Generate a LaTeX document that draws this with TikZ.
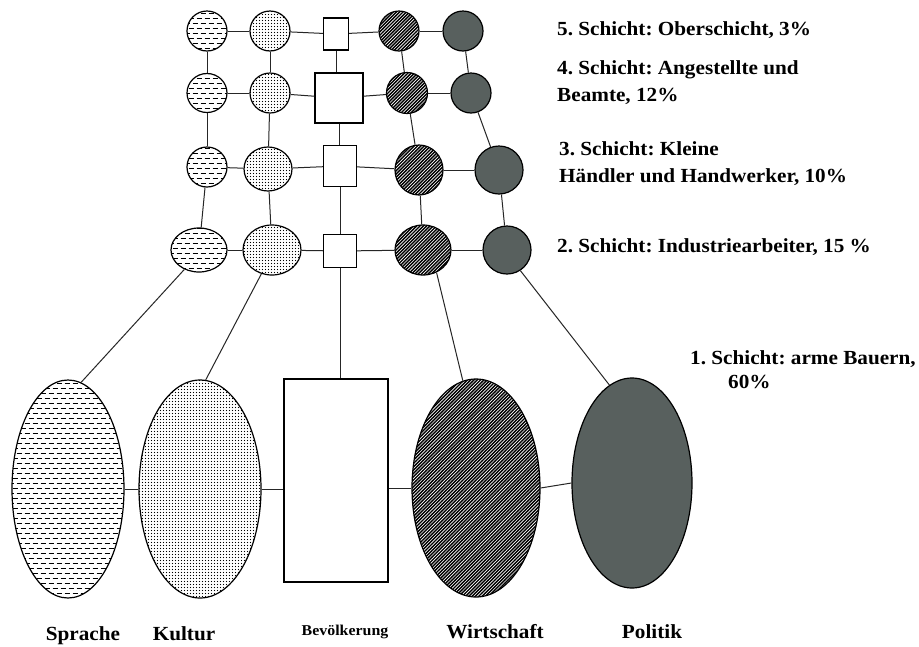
\documentclass[tikz,border=0pt]{standalone}
\usepackage{fontspec}
\setmainfont{Liberation Serif}
\newfontfamily\labfont[FakeStretch=1.06]{Liberation Serif}
\usetikzlibrary{shapes.geometric,patterns}

% staggered short horizontal dashes
\pgfdeclarepatternformonly{hdashes}{\pgfpoint{-0.5pt}{-0.5pt}}{\pgfpoint{8.5pt}{10.5pt}}{\pgfpoint{8pt}{10pt}}{%
  \pgfsetlinewidth{1.6pt}
  \pgfpathmoveto{\pgfpoint{0.5pt}{2.5pt}}\pgfpathlineto{\pgfpoint{5.5pt}{2.5pt}}
  \pgfpathmoveto{\pgfpoint{4.5pt}{7.5pt}}\pgfpathlineto{\pgfpoint{8pt}{7.5pt}}
  \pgfpathmoveto{\pgfpoint{0pt}{7.5pt}}\pgfpathlineto{\pgfpoint{1.5pt}{7.5pt}}
  \pgfusepath{stroke}}
% fine dots
\pgfdeclarepatternformonly{finedots}{\pgfpoint{-0.5pt}{-0.5pt}}{\pgfpoint{3.5pt}{3.5pt}}{\pgfpoint{3pt}{3pt}}{%
  \pgfpathcircle{\pgfpoint{1.5pt}{1.5pt}}{0.7pt}
  \pgfusepath{fill}}
% dense diagonal hatching
\pgfdeclarepatternformonly{densediag}{\pgfpoint{-1pt}{-1pt}}{\pgfpoint{4.3pt}{4.3pt}}{\pgfpoint{3.3pt}{3.3pt}}{%
  \pgfsetlinewidth{1.4pt}
  \pgfpathmoveto{\pgfpoint{-0.1pt}{-0.1pt}}\pgfpathlineto{\pgfpoint{3.4pt}{3.4pt}}
  \pgfusepath{stroke}}

\definecolor{politikgrey}{RGB}{88,96,94}

\begin{document}
\frenchspacing
\begin{tikzpicture}[x=1pt,y=-1pt,
  sz/.style 2 args={minimum width=#1pt,minimum height=#2pt},
  blob/.style={ellipse,draw=black,line width=1.2pt,inner sep=0pt},
  spr/.style={blob,pattern=hdashes},
  kul/.style={blob,pattern=finedots},
  wir/.style={blob,pattern=densediag},
  pol/.style={blob,fill=politikgrey},
  bev/.style={rectangle,draw=black,line width=1.2pt,fill=white,inner sep=0pt},
  conn/.style={draw=black!85,line width=1pt},
  lab/.style={inner sep=0pt,font=\labfont\bfseries\fontsize{20}{24}\selectfont},
  sublab/.style={inner sep=0pt,font=\labfont\bfseries\fontsize{15}{18}\selectfont}]

\useasboundingbox (0,0) rectangle (919,646);
\fill[white] (0,0) rectangle (919,646);

% grid of strata: rows 1..4 (top to bottom), columns 1..5
\node[spr,sz={40}{40}] (r1c1) at (207,31) {};
\node[kul,sz={40}{40}] (r1c2) at (270,31) {};
\node[bev,sz={25}{32}] (r1c3) at (336,34) {};
\node[wir,sz={40}{40}] (r1c4) at (399,31) {};
\node[pol,sz={40}{40}] (r1c5) at (463,31) {};

\node[spr,sz={40}{39}] (r2c1) at (207,93) {};
\node[kul,sz={40}{40}] (r2c2) at (270,93) {};
\node[bev,sz={48}{50}] (r2c3) at (339,98) {};
\node[wir,sz={41}{41}] (r2c4) at (407,93) {};
\node[pol,sz={40}{40}] (r2c5) at (471,93) {};

\node[spr,sz={40}{40}] (r3c1) at (207,167) {};
\node[kul,sz={48}{44}] (r3c2) at (268,169) {};
\node[bev,sz={33}{41}] (r3c3) at (340,166) {};
\node[wir,sz={48}{50}] (r3c4) at (419,170) {};
\node[pol,sz={48}{48}] (r3c5) at (499,170) {};

\node[spr,sz={56}{44}] (r4c1) at (199,250) {};
\node[kul,sz={58}{50}] (r4c2) at (272,250) {};
\node[bev,sz={33}{33}] (r4c3) at (340,251) {};
\node[wir,sz={56}{50}] (r4c4) at (423,250) {};
\node[pol,sz={48}{48}] (r4c5) at (507,250) {};

% bottom layer
\node[spr,sz={112}{218}] (spr) at (68,489) {};
\node[kul,sz={122}{218}] (kul) at (200,489) {};
\node[bev,sz={104}{203}] (bev) at (336,480.5) {};
\node[wir,sz={128}{218}] (wir) at (476,488) {};
\node[pol,sz={120}{210}] (pol) at (632,483) {};

% horizontal links in the grid
\foreach \r in {1,2,3,4}{
  \draw[conn] (r\r c1) -- (r\r c2);
  \draw[conn] (r\r c2) -- (r\r c3);
  \draw[conn] (r\r c3) -- (r\r c4);
  \draw[conn] (r\r c4) -- (r\r c5);
}
% vertical links in the grid
\foreach \c in {1,2,4,5}{
  \draw[conn] (r1c\c) -- (r2c\c);
  \draw[conn] (r2c\c) -- (r3c\c);
  \draw[conn] (r3c\c) -- (r4c\c);
}
\draw[conn] (r1c3.south) -- (r2c3.north -| r1c3.south);
\draw[conn] (r2c3.south) -- (r2c3.south |- r3c3.north);
\draw[conn] (r3c3.south) -- (r3c3.south |- r4c3.north);

% grid to bottom layer
\draw[conn] (r4c1.233) -- (spr.83);
\draw[conn] (r4c2.246) -- (kul.87);
\draw[conn] (r4c3.south) -- (r4c3.south |- bev.north);
\draw[conn] (r4c4.301) -- (wir.97);
\draw[conn] (r4c5.303) -- (pol.103.5);

% links in the bottom layer
\draw[conn] (spr.east) -- (kul.west);
\draw[conn] (kul.east) -- (kul.east -| bev.west);
\draw[conn] (bev.east |- wir.west) -- (wir.west);
\draw[conn] (wir.east) -- (pol.west);

% stratum labels
\node[lab,anchor=base west] (t5) at (557,35) {5. Schicht: Oberschicht, 3\%};
\node[lab,anchor=base west] (t4a) at (557,74) {4. Schicht: Angestellte und};
\node[lab,anchor=base west] (t4b) at (557,101) {Beamte, 12\%};
\node[lab,anchor=base west] (t3a) at (559,155) {3. Schicht: Kleine};
\node[lab,anchor=base west] (t3b) at (559,182) {Händler und Handwerker, 10\%};
\node[lab,anchor=base west] (t2) at (557,252) {2. Schicht: Industriearbeiter, 15 \%};
\node[lab,anchor=base west] (t1a) at (690,364) {1. Schicht: arme Bauern,};
\node[lab,anchor=base west] (t1b) at (728,388) {60\%};

% sector labels
\node[lab,anchor=base] (lspr) at (83,640) {Sprache};
\node[lab,anchor=base] (lkul) at (184,640) {Kultur};
\node[sublab,anchor=base] (lbev) at (345,635) {Bevölkerung};
\node[lab,anchor=base] (lwir) at (495,638) {Wirtschaft};
\node[lab,anchor=base] (lpol) at (652,638) {Politik};
\end{tikzpicture}
\end{document}
